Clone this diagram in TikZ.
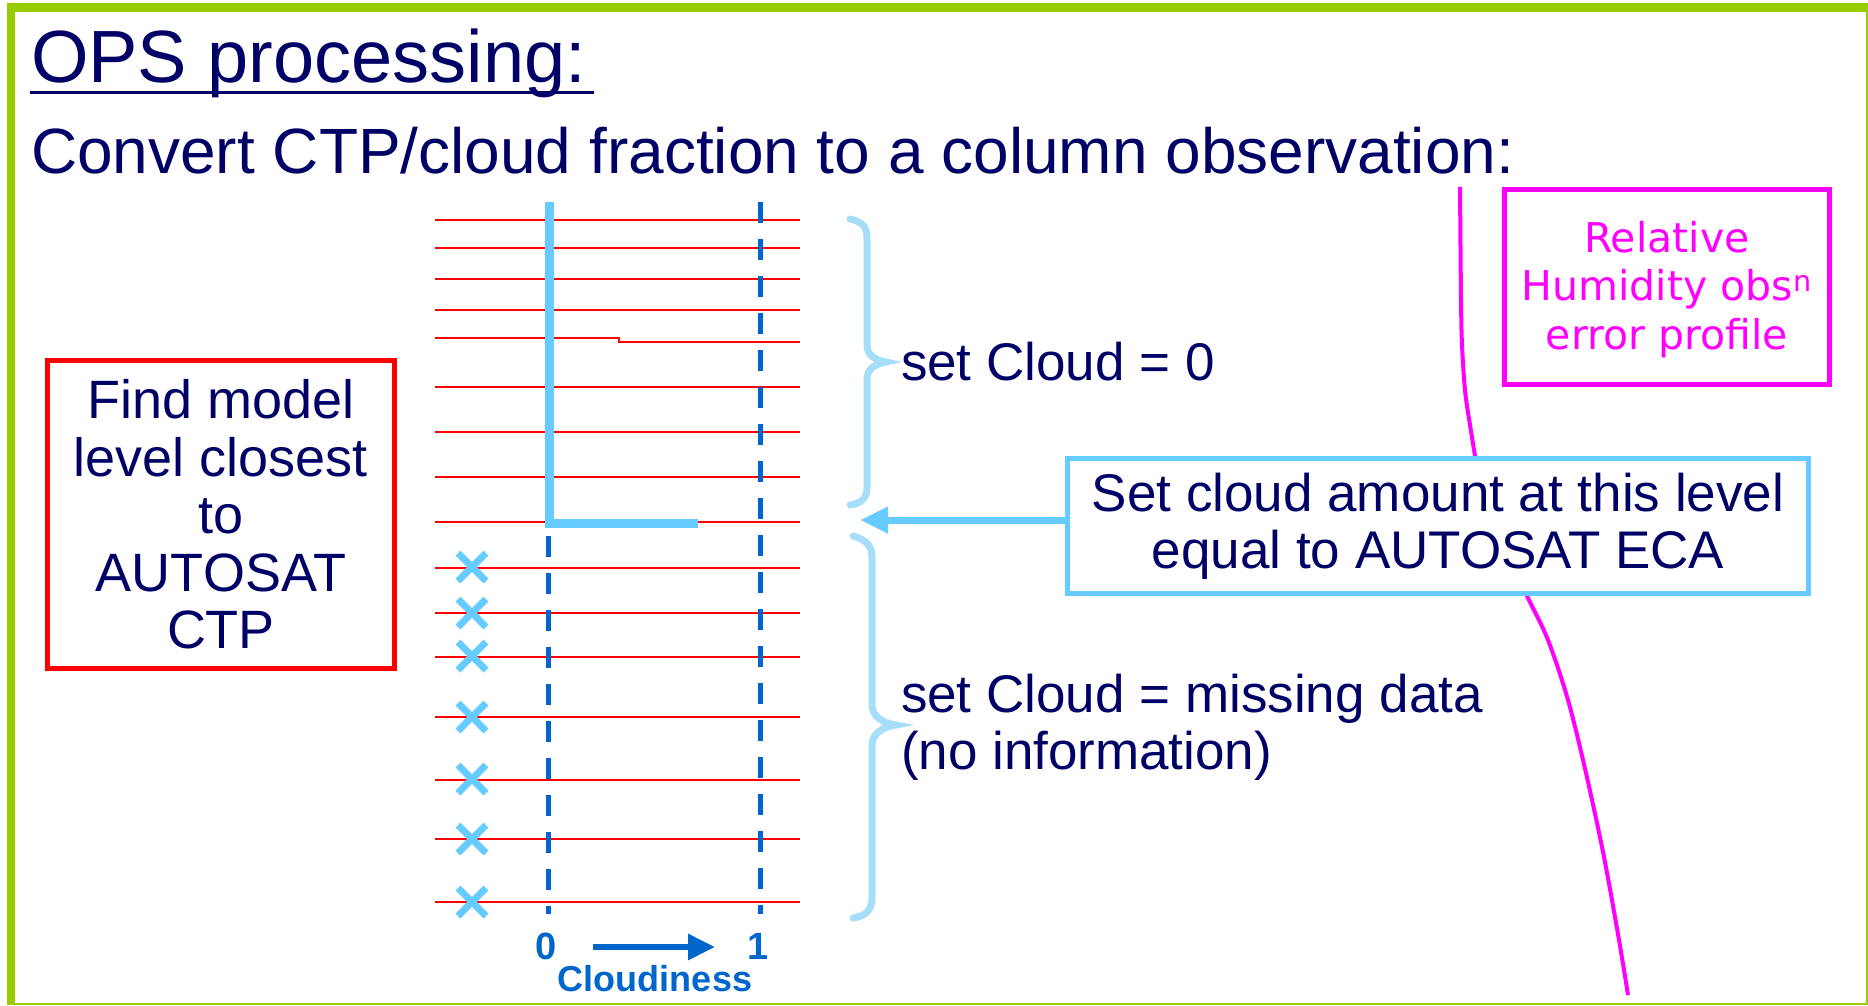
\documentclass[tikz,border=0pt]{standalone}
\usepackage{fontspec}
\setmainfont{Liberation Sans}
\newfontfamily\dejavu{DejaVu Sans}
\usetikzlibrary{arrows.meta,calc}
\definecolor{navy}{RGB}{0,0,102}
\definecolor{framegreen}{RGB}{153,204,0}
\definecolor{lvlred}{RGB}{255,0,0}
\definecolor{sky}{RGB}{102,204,255}
\definecolor{pale}{RGB}{166,222,250}
\definecolor{dblue}{RGB}{0,102,204}
\definecolor{mag}{RGB}{255,0,255}
\tikzset{
  navytext/.style={text=navy, inner sep=0pt, outer sep=0pt},
  bigfont/.style={font=\fontsize{53}{57}\selectfont},
  levelline/.style={lvlred, line width=2.8pt},
  axisline/.style={dblue, line width=5pt, dash pattern=on 21pt off 16pt},
  profile/.style={sky, line width=9pt, line join=miter},
  missmark/.style={sky, line width=7pt},
  bracestyle/.style={pale, line width=7pt, line cap=round},
  axislabel/.style={text=dblue, inner sep=0pt, font=\bfseries\fontsize{38}{40}\selectfont, anchor=base},
  boxnode/.style={line width=5pt, align=center, inner sep=0pt, fill=white}
}
\begin{document}
\begin{tikzpicture}[x=1pt,y=-1pt]
\useasboundingbox (0,0) rectangle (1868,1005);
\fill[white] (0,0) rectangle (1868,1005);
% frame
\fill[framegreen] (7,3) rectangle (1868,1005);
\fill[white] (15,12) rectangle (1866,1003);

% titles
\node[navytext, anchor=base west, font=\fontsize{74}{89}\selectfont] (title) at (31,82) {OPS processing:};
\draw[navy, line width=3pt] ($(title.base west)+(-1,10)$) -- ($(title.base east)+(8,10)$);
\node[navytext, anchor=base west, font=\fontsize{64}{77}\selectfont] (subtitle) at (31,173) {Convert CTP/cloud fraction to a column observation:};

% left box
\node[boxnode, draw=lvlred, text=navy, minimum width=347pt, minimum height=308pt,
      font=\fontsize{54}{57.5}\selectfont] (findbox) at (221,514.5)
      {Find model\\level closest\\to\\AUTOSAT\\CTP};

% model levels
\foreach \yy in {220,248,279,310,387,432,477,522,568,613,657,717,780,839,902}
  \draw[levelline] (435,\yy) -- (800,\yy);
\draw[levelline] (435,338) -- (619,338) -- (619,342) -- (800,342);

% cloudiness axes
\draw[axisline] (760,202) -- (760,914);
\draw[axisline] (548,536) -- (548,914);

% cloud profile
\draw[profile] (549,202) -- (549,523) -- (698,523);

% missing data marks
\foreach \yy in {567,613,656,717,779,839,902}
  \draw[missmark] (458,\yy-14) -- (486,\yy+14) (458,\yy+14) -- (486,\yy-14);

% axis labels
\node[axislabel] (lab0) at (546,959) {0};
\node[axislabel] (lab1) at (758,959) {1};
\coordinate (cl0) at (593,947);
\coordinate (cl1) at (715,947);
\draw[dblue, line width=6pt, -{Triangle[length=27pt,width=25pt]}] (cl0) -- (cl1);
\node[axislabel, font=\bfseries\fontsize{36}{40}\selectfont] (cloudiness) at (655,991) {Cloudiness};

% braces
\draw[bracestyle] (850,219) .. controls (864,222) and (867,228) .. (867,240) -- (867,345)
  .. controls (867,355) and (875,360) .. (886,362)
  .. controls (875,364) and (867,369) .. (867,379) -- (867,487)
  .. controls (867,498) and (862,503) .. (850,505);
\draw[bracestyle] (853,536) .. controls (867,540) and (872,546) .. (872,558) -- (872,705)
  .. controls (872,716) and (882,723) .. (896,725)
  .. controls (882,727) and (872,734) .. (872,745) -- (872,897)
  .. controls (872,910) and (866,916) .. (853,918);

\node[navytext, bigfont, anchor=base west] (setzero) at (901,380) {set Cloud = 0};
\node[navytext, bigfont, anchor=base west] (setmiss) at (901,712) {set Cloud = missing data};
\node[navytext, bigfont, anchor=base west] (noinfo) at (901,769) {(no information)};

% RH obs error profile
\draw[mag, line width=4pt] plot[smooth, tension=0.5] coordinates
  {(1460,187) (1461,300) (1462,345) (1465,390) (1470,425) (1480,480) (1500,540) (1528,598) (1548,640) (1568,700) (1586,773) (1604,857) (1619,940) (1628,995)};

\node[boxnode, draw=mag, text=mag, minimum width=324.5pt, minimum height=195.5pt,
      font=\dejavu\fontsize{41}{48.5}\selectfont] (rhbox) at (1666.75,286.75)
      {\rule{0pt}{37pt}Relative\\Humidity obs\textsuperscript{n}\\error profile};

% set cloud amount box
\node[boxnode, draw=sky, text=navy, minimum width=741pt, minimum height=135pt,
      bigfont] (setbox) at (1438,526)
      {Set cloud amount at this level\\equal to AUTOSAT ECA};
\coordinate (gap) at (860,520);
\draw[sky, line width=7pt, -{Triangle[length=28pt,width=25pt]}] (setbox.west |- gap) -- (gap);
\end{tikzpicture}
\end{document}
